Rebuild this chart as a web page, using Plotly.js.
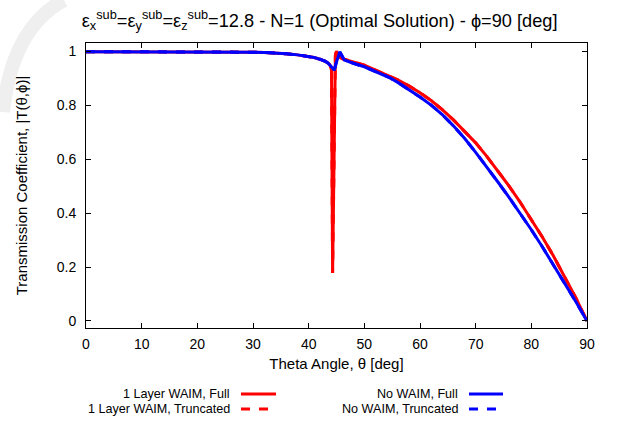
<!DOCTYPE html>
<html>
<head>
<meta charset="utf-8">
<script src="https://cdn.plot.ly/plotly-3.0.1.min.js"></script>
<style>html,body{margin:0;padding:0;background:#fff;}#chart{width:617px;height:422px;}</style>
</head>
<body>
<div id="chart"></div>
<script>
// Theta angles [deg] and transmission coefficients
const thetaWaim = [0,5,10,15,20,25,30,32,34,36,38,40,41,42,43,43.5,43.8,44.1,44.3,44.5,44.8,45.0,45.3,46,47,48,50,52,54.5,56,58,60,62,64,66,68,70,72,74,76,78,80,82,84,86,88,90];
const waimFull  = [0.998,0.998,0.998,0.998,0.998,0.997,0.996,0.995,0.993,0.990,0.986,0.980,0.976,0.970,0.962,0.955,0.950,0.930,0.178,0.50,0.985,1.0,0.982,0.972,0.965,0.960,0.948,0.930,0.909,0.893,0.871,0.846,0.817,0.783,0.745,0.704,0.660,0.610,0.556,0.500,0.440,0.377,0.310,0.240,0.165,0.085,0.0];
const waimTrunc = waimFull.slice();

const thetaNo = [0,5,10,15,20,25,30,32,34,36,38,40,41,42,43,43.5,44,44.6,45.0,45.6,46.4,47.3,48,50,52,54.5,56,58,60,62,64,66,68,70,72,74,76,78,80,82,84,86,88,90];
const noFull  = [0.998,0.998,0.998,0.998,0.998,0.997,0.996,0.995,0.993,0.990,0.986,0.980,0.976,0.970,0.962,0.955,0.945,0.930,0.960,0.997,0.967,0.960,0.955,0.942,0.925,0.902,0.884,0.858,0.830,0.800,0.765,0.723,0.677,0.625,0.571,0.515,0.458,0.399,0.338,0.274,0.208,0.140,0.071,0.0];
const noTrunc = noFull.slice();

const seriesNames = ["1 Layer WAIM, Full","1 Layer WAIM, Truncated","No WAIM, Full","No WAIM, Truncated"];
const xTicks = [0,10,20,30,40,50,60,70,80,90];
const yTicks = [0,0.2,0.4,0.6,0.8,1];
const yTickText = ["0","0.2","0.4","0.6","0.8","1"];

const RED = "#ff0000", BLUE = "#0000ff";
const FONT = "Liberation Sans, Arial, sans-serif";

const traces = [
  {x: thetaWaim, y: waimFull, name: seriesNames[0], mode: "lines", line: {color: RED, width: 3}},
  {x: thetaWaim, y: waimTrunc, name: seriesNames[1], mode: "lines", line: {color: RED, width: 3, dash: "dash"}},
  {x: thetaNo, y: noFull, name: seriesNames[2], mode: "lines", line: {color: BLUE, width: 3}},
  {x: thetaNo, y: noTrunc, name: seriesNames[3], mode: "lines", line: {color: BLUE, width: 3, dash: "dash"}}
];

// gnuplot-style legend: right-aligned text followed by a line sample
const legendCols = [{textRight: 232, lineX0: 241, lineX1: 276}, {textRight: 460, lineX0: 469, lineX1: 503}];
const legendRows = [394, 409];
const W = 617, H = 422;
const margin = {l: 86, r: 30, t: 43, b: 94};
const pw = W - margin.l - margin.r, ph = H - margin.t - margin.b;
const toPX = px => (px - margin.l) / pw;
const toPY = py => (H - margin.b - py) / ph;

const annotations = [];
const shapes = [];
// faint watermark arc in the top-left corner
shapes.push({
  type: "path", xref: "paper", yref: "paper", layer: "below",
  path: "M " + toPX(3) + "," + toPY(112) + " Q " + toPX(12) + "," + toPY(28) + " " + toPX(64) + "," + toPY(0),
  line: {color: "#efefef", width: 14}
});
seriesNames.forEach((nm, i) => {
  const col = legendCols[Math.floor(i / 2)];
  const row = legendRows[i % 2];
  const tr = traces[i];
  annotations.push({
    xref: "paper", yref: "paper", showarrow: false,
    x: toPX(col.textRight), y: toPY(row), text: nm, xanchor: "right", yanchor: "middle",
    font: {family: FONT, size: 12.6, color: "#000"}
  });
  shapes.push({
    type: "line", xref: "paper", yref: "paper",
    x0: toPX(col.lineX0), x1: toPX(col.lineX1), y0: toPY(row), y1: toPY(row),
    line: {color: tr.line.color, width: 3, dash: tr.line.dash || "solid"}
  });
});

const layout = {
  width: W, height: H,
  margin: margin,
  paper_bgcolor: "#fff", plot_bgcolor: "#fff",
  font: {family: FONT, size: 14, color: "#000"},
  showlegend: false,
  title: {
    text: "ε<sub>x</sub><sup>sub</sup>=ε<sub>y</sub><sup>sub</sup>=ε<sub>z</sub><sup>sub</sup>=12.8 - N=1 (Optimal Solution) - ϕ=90 [deg]",
    font: {family: FONT, size: 18.2, color: "#000"},
    x: 0.518, xanchor: "center", xref: "container",
    y: 0.952, yanchor: "middle", yref: "container"
  },
  xaxis: {
    range: [0, 90], tickvals: xTicks, ticks: "inside", ticklen: 5, tickcolor: "#000",
    showline: true, linecolor: "#000", linewidth: 1, mirror: "allticks",
    showgrid: false, zeroline: false, ticklabelstandoff: 3,
    tickfont: {family: FONT, size: 14, color: "#000"},
    title: {text: "Theta Angle, θ [deg]", font: {family: FONT, size: 15, color: "#000"}, standoff: 7}
  },
  yaxis: {
    range: [-0.026, 1.03], tickvals: yTicks, ticktext: yTickText, ticks: "inside", ticklen: 5, tickcolor: "#000",
    showline: true, linecolor: "#000", linewidth: 1, mirror: "allticks",
    showgrid: false, zeroline: false, ticklabelstandoff: 6,
    tickfont: {family: FONT, size: 14, color: "#000"},
    title: {text: "Transmission Coefficient, |T(θ,ϕ)|", font: {family: FONT, size: 15, color: "#000"}, standoff: 25}
  },
  annotations: annotations,
  shapes: shapes
};

Plotly.newPlot("chart", traces, layout, {displayModeBar: false, staticPlot: true});
</script>
</body>
</html>
